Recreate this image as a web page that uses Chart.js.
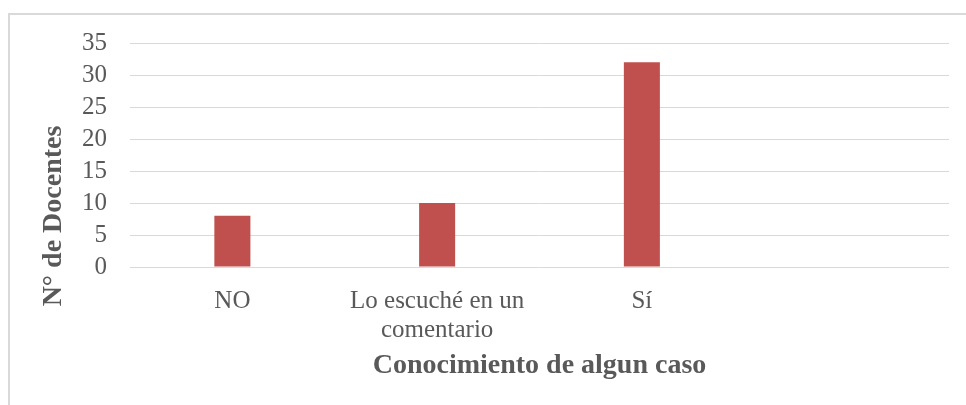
<!DOCTYPE html>
<html>
<head>
<meta charset="utf-8">
<script src="https://cdn.jsdelivr.net/npm/chart.js@4.4.1/dist/chart.umd.min.js"></script>
<style>
  body { margin: 0; background: #fff; }
  #wrap { position: relative; width: 966px; height: 405px; overflow: hidden; }
  #frame { position: absolute; left: 8px; top: 13px; width: 1000px; height: 500px;
           border-left: 2px solid #d9d9d9; border-top: 2px solid #d9d9d9; }
  #barChart { position: absolute; left: 0; top: 0; }
</style>
</head>
<body>
<div id="wrap">
  <div id="frame"></div>
  <canvas id="barChart" width="966" height="405"></canvas>
</div>
<script>
// categorias del eje x (la ultima queda vacia como en el original)
var categorias = ["NO", ["Lo escuché en un", "comentario"], "Sí", ""];
// numero de docentes por respuesta
var docentes = [8, 10, 32, null];
// marcas del eje y
var marcasY = [0, 5, 10, 15, 20, 25, 30, 35];

var tituloX = "Conocimiento de algun caso";
var tituloY = "N° de Docentes";

var gris = "#595959";

// titulo del eje y dibujado a mano para poder bajarlo un poco
var tituloEjeY = {
	id: "tituloEjeY",
	afterDraw: function(chart){
		var ctx = chart.ctx;
		ctx.save();
		ctx.translate(54, 216);
		ctx.rotate(-Math.PI / 2);
		ctx.font = "bold 28px 'Liberation Serif'";
		ctx.fillStyle = gris;
		ctx.textAlign = "center";
		ctx.textBaseline = "middle";
		ctx.fillText(tituloY, 0, 0);
		ctx.restore();
	}
};

var ctx = document.getElementById("barChart").getContext("2d");

var chart = new Chart(ctx, {
	type: "bar",
	data: {
		labels: categorias,
		datasets: [{
			data: docentes,
			backgroundColor: "#c0504d",
			barPercentage: 0.176,
			categoryPercentage: 1
		}]
	},
	options: {
		responsive: false,
		animation: false,
		layout: { padding: { top: 43, right: 17, bottom: 0, left: 0 } },
		plugins: {
			legend: { display: false },
			tooltip: { enabled: false }
		},
		scales: {
			x: {
				grid: { display: false },
				border: { display: false },
				ticks: {
					color: gris,
					padding: 12,
					maxRotation: 0,
					autoSkip: false,
					font: { family: "'Liberation Serif'", size: 25, lineHeight: 1.16 }
				},
				title: {
					display: true,
					text: tituloX,
					color: gris,
					padding: { top: 0, bottom: 22 },
					font: { family: "'Liberation Serif'", size: 28, weight: "bold", lineHeight: 1.2 }
				},
				afterFit: function(scale){ scale.height = 138; }
			},
			y: {
				min: marcasY[0],
				max: marcasY[marcasY.length - 1],
				afterBuildTicks: function(scale){
					scale.ticks = marcasY.map(function(v){ return { value: v }; });
				},
				grid: { color: "#d9d9d9", lineWidth: 1, drawTicks: false },
				border: { display: false },
				ticks: {
					color: gris,
					padding: 23,
					autoSkip: false,
					font: { family: "'Liberation Serif'", size: 25 }
				},
				afterFit: function(scale){ scale.width = 130; }
			}
		}
	},
	plugins: [tituloEjeY]
});
</script>
</body>
</html>
